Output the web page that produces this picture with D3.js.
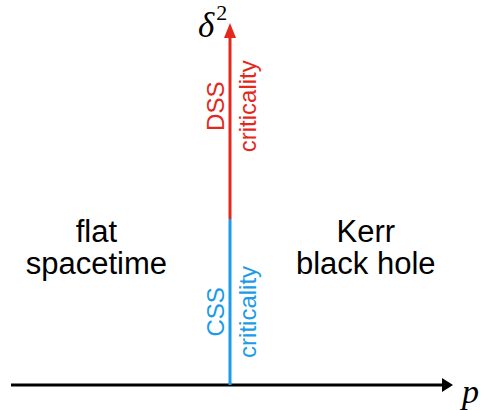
<!DOCTYPE html>
<html>
<head>
<meta charset="utf-8">
<script src="https://cdn.jsdelivr.net/npm/d3@7"></script>
<style>
  body { margin: 0; background: #fff; }
  svg { display: block; }
</style>
</head>
<body>
<svg id="chart" width="481" height="410"></svg>
<script>
// phase regions either side of p*
const regionNames = [["flat", "spacetime"], ["Kerr", "black hole"]];
const regionP = [-0.61, 0.62];
const regionDelta = 0.41;

// critical line segments along delta^2 at p = p*
const critNames = ["CSS", "DSS"];
const critFrom = [0, 0.477];
const critTo = [0.477, 1];
const critLabelAt = [0.21, 0.801];
const critColors = ["#1b9be8", "#e4281c"];

const svg = d3.select("#chart");

const xScale = d3.scaleLinear().domain([-1, 1]).range([11, 449]);
const yScale = d3.scaleLinear().domain([0, 1]).range([385, 37]);

const sans = "'Liberation Sans', Arial, Helvetica, sans-serif";
const serif = "'Liberation Serif', 'Times New Roman', serif";

// p axis
svg.append("line")
    .attr("x1", xScale(-1))
    .attr("x2", xScale(1) - 2)
    .attr("y1", yScale(0))
    .attr("y2", yScale(0))
    .attr("stroke", "#000")
    .attr("stroke-width", 3);

svg.append("path")
    .attr("d", `M${xScale(1) - 7},${yScale(0) - 7} L${xScale(1) + 4},${yScale(0)} L${xScale(1) - 7},${yScale(0) + 7} Z`)
    .attr("fill", "#000");

svg.append("text")
    .attr("x", xScale(1) + 13)
    .attr("y", yScale(0) + 18)
    .style("font-family", serif)
    .style("font-style", "italic")
    .style("font-size", "34px")
    .text("p");

// critical segments
const segs = critNames.map((n, i) => ({ name: n, from: critFrom[i], to: critTo[i], at: critLabelAt[i], color: critColors[i] }));

svg.selectAll(".seg")
    .data(segs)
    .enter().append("line")
    .attr("class", "seg")
    .attr("x1", xScale(0))
    .attr("x2", xScale(0))
    .attr("y1", d => yScale(d.from))
    .attr("y2", d => yScale(d.to) + (d.to === 1 ? 1 : 0))
    .attr("stroke", d => d.color)
    .attr("stroke-width", 3);

svg.append("path")
    .attr("d", `M${xScale(0) - 6},${yScale(1) + 1} L${xScale(0)},${yScale(1) - 14} L${xScale(0) + 6},${yScale(1) + 1} Z`)
    .attr("fill", critColors[1]);

// rotated labels
segs.forEach(d => {
    const mid = yScale(d.at);
    svg.append("text")
        .attr("transform", `translate(${xScale(0) - 6},${mid}) rotate(-90)`)
        .style("text-anchor", "middle")
        .style("font-family", sans)
        .style("font-size", "24px")
        .attr("fill", d.color)
        .text(d.name);
    svg.append("text")
        .attr("transform", `translate(${xScale(0) + 26},${mid}) rotate(-90)`)
        .style("text-anchor", "middle")
        .style("font-family", sans)
        .style("font-size", "24px")
        .attr("fill", d.color)
        .text("criticality");
});

// delta^2 label
const dl = svg.append("text")
    .attr("x", xScale(0) - 32)
    .attr("y", yScale(1))
    .style("font-family", serif)
    .style("font-size", "35px");
dl.append("tspan").style("font-style", "italic").text("δ");
dl.append("tspan").attr("dx", 2).attr("dy", -17).style("font-size", "22px").text("2");

// region labels
regionNames.forEach((lines, i) => {
    const t = svg.append("text")
        .attr("x", xScale(regionP[i]))
        .attr("y", yScale(regionDelta))
        .style("text-anchor", "middle")
        .style("font-family", sans)
        .style("font-size", "31px");
    lines.forEach((s, j) => {
        t.append("tspan")
            .attr("x", xScale(regionP[i]))
            .attr("dy", j === 0 ? 0 : 32)
            .text(s);
    });
});
</script>
</body>
</html>
